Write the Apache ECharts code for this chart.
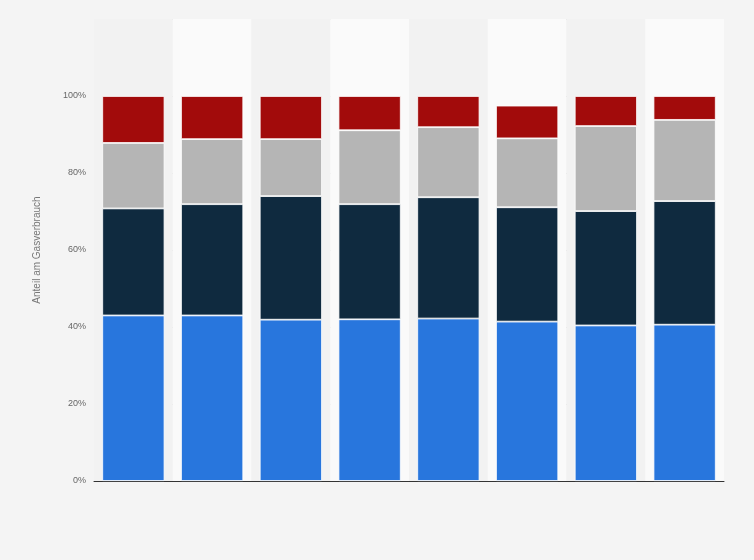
<!DOCTYPE html>
<html><head><meta charset="utf-8">
<script src="https://cdn.jsdelivr.net/npm/echarts@6/dist/echarts.min.js"></script>
<style>html,body{margin:0;padding:0;background:#f4f4f4}#c{width:754px;height:560px}</style>
</head><body><div id="c"></div>
<script>
var categories = ['1','2','3','4','5','6','7','8'];
var seriesA = [43, 43, 41.9, 42, 42.2, 41.4, 40.4, 40.6];
var seriesB = [27.8, 28.9, 32.1, 29.9, 31.5, 29.7, 29.7, 32.1];
var seriesC = [17, 16.9, 14.8, 19.2, 18.2, 17.9, 22.1, 21.1];
var seriesD = [12.2, 11.2, 11.2, 8.9, 8.1, 8.5, 7.8, 6.2];
var yTicks = [0, 20, 40, 60, 80, 100, 120];
var colors = ['#2876dd', '#0f2a3f', '#b5b5b5', '#a20b0b'];
function mk(d, i) {
  return {type:'bar', stack:'s', data:d, barCategoryGap:'21%',
    itemStyle:{color:colors[i], borderColor:'#ffffff', borderWidth:0.8}};
}
var chart = echarts.init(document.getElementById('c'));
chart.setOption({
  backgroundColor:'#f4f4f4',
  animation:false,
  grid:{left:94, right:30, top:19, bottom:79},
  xAxis:{type:'category', data:categories,
    axisLine:{lineStyle:{color:'#333', width:1}}, axisTick:{show:false}, axisLabel:{show:false},
    splitArea:{show:true, areaStyle:{color:['#f2f2f2','#fafafa']}}},
  yAxis:{type:'value', min:0, max:120, interval:20,
    name:'Anteil am Gasverbrauch', nameLocation:'middle', nameGap:52,
    nameTextStyle:{color:'#777', fontSize:10, fontFamily:'Arial, Liberation Sans'},
    axisLine:{show:false}, axisTick:{show:false},
    axisLabel:{color:'#666', fontSize:9, fontFamily:'Arial, Liberation Sans',
      formatter:function(v){return v===120?'':v+'%';}},
    splitLine:{lineStyle:{color:'#d0d0d0', type:'dotted'}}},
  series:[mk(seriesA,0), mk(seriesB,1), mk(seriesC,2), mk(seriesD,3)]
});
</script></body></html>
